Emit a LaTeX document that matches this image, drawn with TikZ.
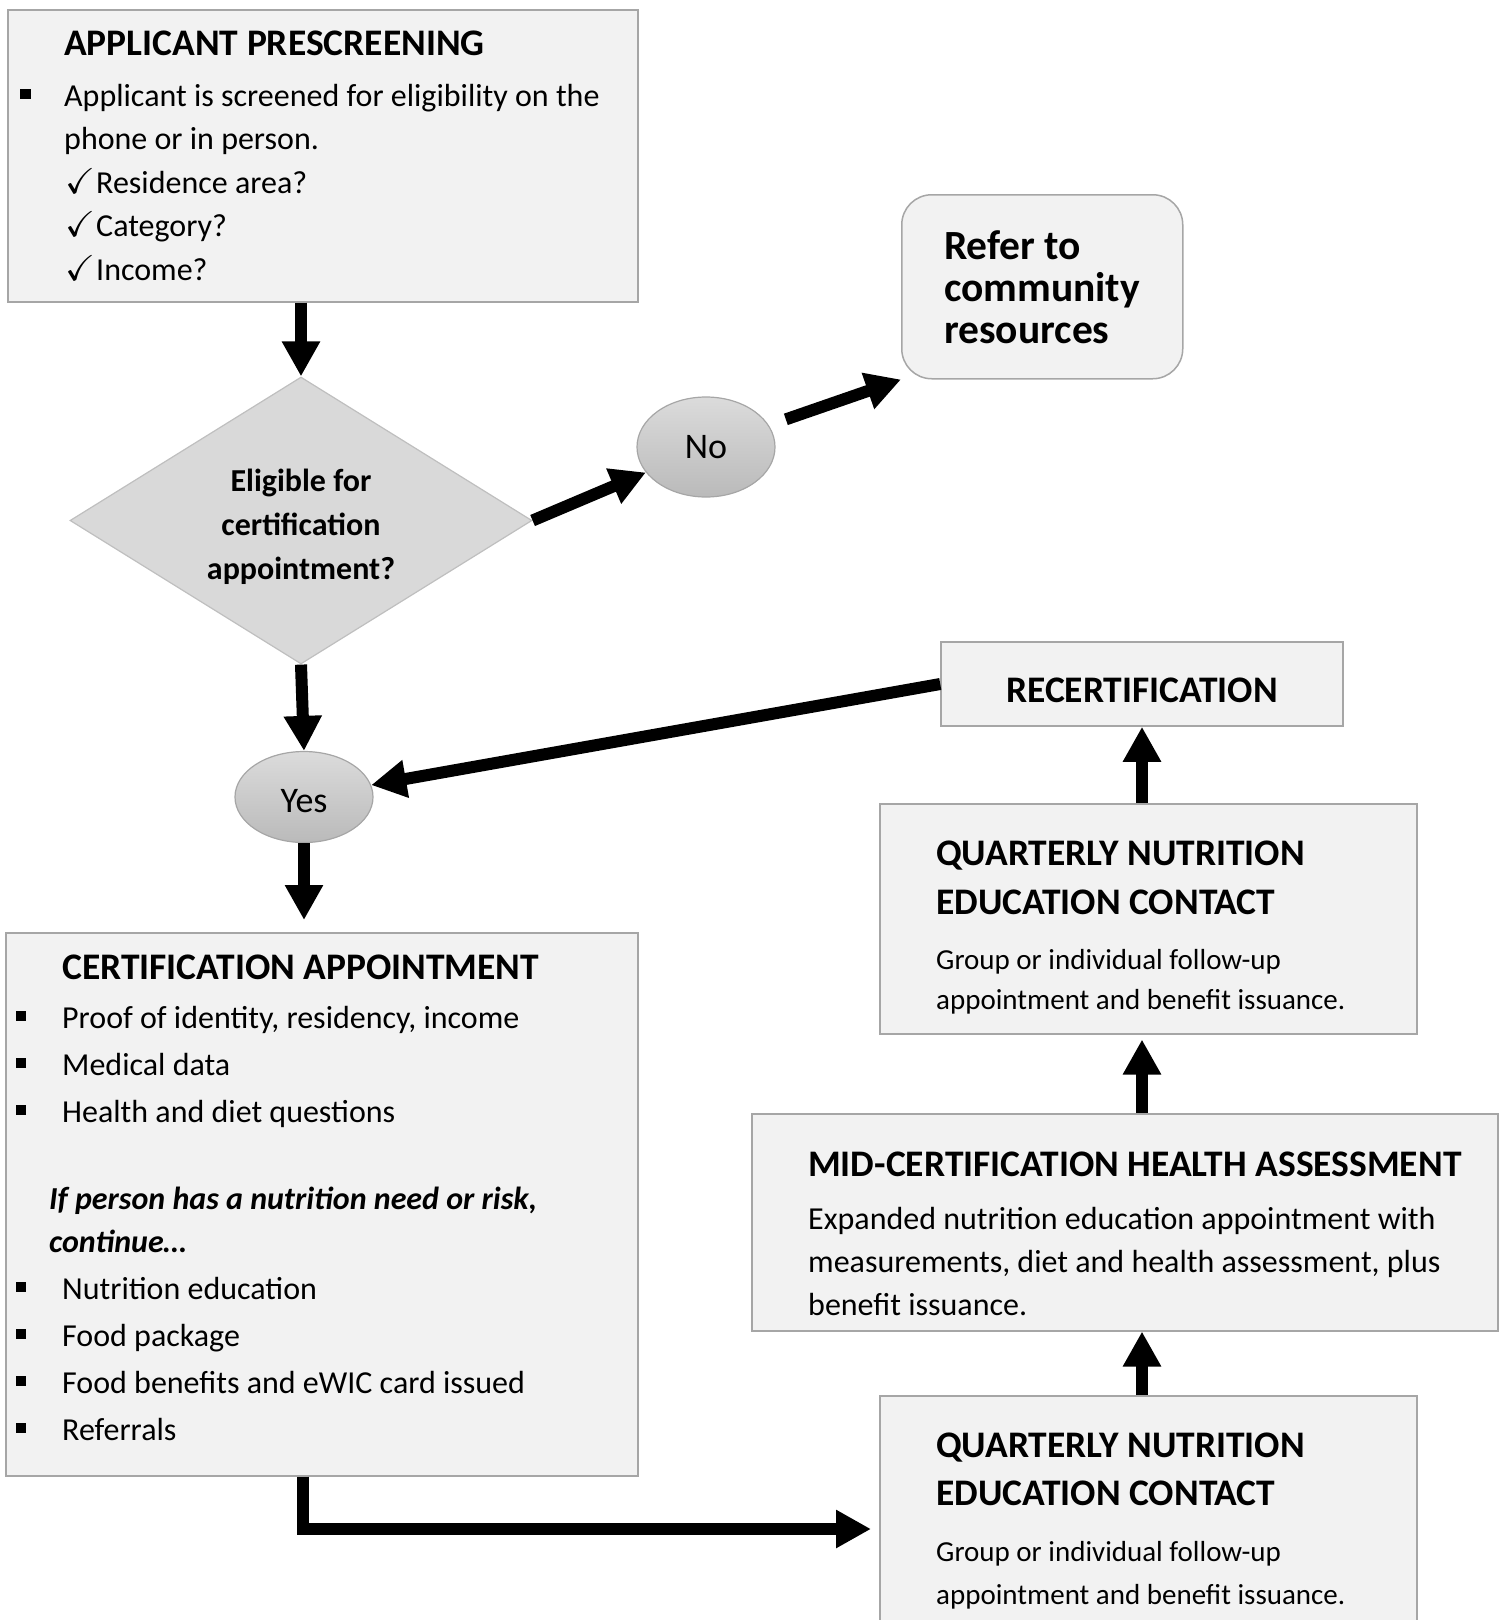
\documentclass[tikz,border=0pt]{standalone}
\usepackage{amssymb}
\usepackage{fontspec}
\setmainfont{Carlito}
\usepackage{tikz}
\usetikzlibrary{positioning, shapes.geometric, arrows.meta}
\definecolor{boxfill}{HTML}{F2F2F2}
\definecolor{boxline}{HTML}{A6A6A6}
\definecolor{decfill}{HTML}{D9D9D9}
\tikzstyle{bx}=[shape=rectangle,
                draw=boxline,
                fill=boxfill,
                line width=1.5pt,
                anchor=north west,
                inner sep=0pt]
\tikzstyle{dec}=[shape=diamond,
                draw=black!25,
                fill=decfill,
                line width=1.2pt,
                aspect=1.6,
                inner sep=0pt,
                minimum width=462pt,
                minimum height=287pt,
                align=center]
\tikzstyle{ans}=[shape=ellipse,
                draw=black!35,
                line width=1.2pt,
                top color=black!14,
                bottom color=black!27,
                minimum width=138pt,
                inner sep=0pt]
\tikzstyle{txt}=[anchor=north west, inner sep=0pt, align=left]
\tikzstyle{flow}=[line width=12pt, -{Triangle[length=35pt, width=36pt]}]
\newcommand{\hd}{\bfseries\fontsize{37.5}{44}\selectfont}
\newcommand{\fst}{\spaceskip=0pt\relax\rule{0pt}{30pt}}
\newcommand{\sqa}{\leavevmode\llap{\rule[7pt]{11pt}{10pt}\hspace{33pt}}}
\newcommand{\sqc}{\leavevmode\llap{\rule[7pt]{10pt}{10pt}\hspace{36pt}}}
\newcommand{\chk}{\leavevmode\makebox[32pt][l]{\hspace{1pt}\fontsize{36}{36}\selectfont$\checkmark$}}

\begin{document}
\begin{tikzpicture}[x=1pt, y=-1pt]
\useasboundingbox (0,0) rectangle (1505,1620);

% left column
\node[bx, minimum width=630pt, minimum height=292pt] (pre) at (7,9) {};
\node[txt, text width=580pt, font=\fontsize{32}{43.5}\selectfont] (pre-txt) at ([shift={(57,16)}]pre.north west) {\fst{\hd APPLICANT PRESCREENING}\\[7.5pt]
\sqa Applicant is screened for eligibility on the\\
phone or in person.\\
\chk Residence area?\\
\chk Category?\\
\chk Income?};

\node[dec, font=\bfseries\fontsize{32}{44}\selectfont] (elig) at (301,520.5) {\rule{0pt}{35pt}Eligible for\\certification\\appointment?};

\node[ans, minimum height=100pt, font=\fontsize{36}{40}\selectfont] (no) at (706,447) {No};
\node[ans, minimum height=91pt, text height=31pt, font=\fontsize{36}{40}\selectfont] (yes) at (304,797) {Yes};

\node[bx, minimum width=632pt, minimum height=543pt] (cert) at (5,932) {};
\node[txt, text width=570pt, font=\fontsize{32}{47}\selectfont] (cert-txt) at ([shift={(57,17)}]cert.north west) {\fst{\hd CERTIFICATION APPOINTMENT}\\[2pt]
\sqc Proof of identity, residency, income\\
\sqc Medical data\\
\sqc Health and diet questions\\[40pt]
\hspace*{-13pt}{\bfseries\itshape If person has a nutrition need or risk,}\\[-4pt]
\hspace*{-13pt}{\bfseries\itshape continue…}\\
\sqc Nutrition education\\
\sqc Food package\\
\sqc Food benefits and eWIC card issued\\
\sqc Referrals};

% right column
\node[bx, rounded corners=30pt, minimum width=281pt, minimum height=184pt] (refer) at (901,194) {};
\node[txt, text width=240pt, font=\bfseries\fontsize{41.5}{42}\selectfont] (refer-txt) at ([shift={(43,31)}]refer.north west) {\spaceskip=0pt\relax\rule{0pt}{34pt}Refer to\\community\\resources};

\node[bx, anchor=center, minimum width=402pt, minimum height=84pt, font=\hd, text height=38pt] (recert) at (1142,684) {RECERTIFICATION};

\node[bx, minimum width=537pt, minimum height=230pt] (qne1) at (879,803) {};
\node[txt, text width=500pt, font=\fontsize{29}{40}\selectfont] (qne1-txt) at ([shift={(57,32)}]qne1.north west) {\fst{\hd QUARTERLY NUTRITION}\\[9.5pt]{\hd EDUCATION CONTACT}\\[14.5pt]Group or individual follow-up\\appointment and benefit issuance.};

\node[bx, minimum width=746pt, minimum height=217pt] (mid) at (751,1113) {};
\node[txt, text width=680pt, font=\fontsize{32}{43}\selectfont] (mid-txt) at ([shift={(57,33)}]mid.north west) {\fst{\hd MID-CERTIFICATION HEALTH ASSESSMENT}\\[10pt]Expanded nutrition education appointment with\\measurements, diet and health assessment, plus\\benefit issuance.};

\node[bx, minimum width=537pt, minimum height=230pt] (qne2) at (879,1395) {};
\node[txt, text width=500pt, font=\fontsize{29}{43}\selectfont] (qne2-txt) at ([shift={(57,32)}]qne2.north west) {\fst{\hd QUARTERLY NUTRITION}\\[5.5pt]{\hd EDUCATION CONTACT}\\[13pt]Group or individual follow-up\\appointment and benefit issuance.};

% arrows
\draw[flow] (pre.south -| elig.north) -- (elig.north);
\draw[flow] (elig.east) -- (no);
\draw[flow, shorten <=18pt] (no) -- (refer.south west);
\draw[flow] (elig.south) -- (yes.north);
\draw[flow] (recert.west) -- (yes);
\draw[flow, shorten >=12pt] (yes.south) -- (yes.south |- cert.north);
\coordinate (bend) at (303,1529);
\draw[flow, shorten >=8pt] (cert.south -| bend) -- (bend) -- (bend -| qne2.west);
\draw[flow] (qne2.north -| recert.south) -- (mid.south -| recert.south);
\draw[flow, shorten >=5pt] (mid.north -| recert.south) -- (qne1.south -| recert.south);
\draw[flow] (qne1.north -| recert.south) -- (recert.south);

\end{tikzpicture}
\end{document}
